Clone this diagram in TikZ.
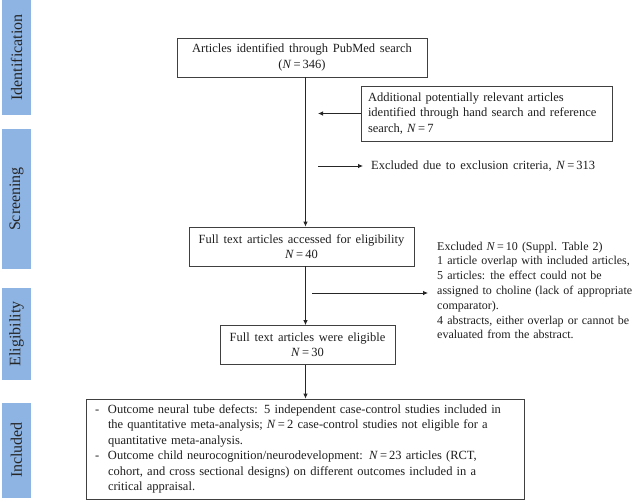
\documentclass[tikz,border=0pt]{standalone}
\usepackage{fontspec}
\setmainfont{Liberation Serif}
\usetikzlibrary{arrows.meta}
\definecolor{barblue}{RGB}{142,180,227}
\definecolor{ink}{RGB}{30,30,30}
\newcommand{\NN}{\textit{N}\,=\,}
\newcommand{\wsp}{\spaceskip=0.38em plus 0.1em minus 0.05em\relax}
\newcommand{\wspn}{\spaceskip=0.34em plus 0.1em minus 0.05em\relax}
\begin{document}
\begin{tikzpicture}[x=1pt,y=-1pt,
  every node/.style={inner sep=0pt, text=ink},
  txt/.style={font=\fontsize{12.5}{15.2}\selectfont\wsp},
  phasebar/.style={fill=barblue, draw=none, minimum width=29pt},
  phaselabel/.style={rotate=90, font=\fontsize{16}{18}\selectfont, text=black!85},
  box/.style={txt, draw=black!75, line width=0.8pt, fill=white, align=center},
  conn/.style={draw=black!85, line width=0.8pt, -{Latex[length=5pt,width=4.5pt]}},
]
\useasboundingbox (0,0) rectangle (642,501);

% phase bars
\node[phasebar, minimum height=115pt] (idbar) at (16.5,57.5) {};
\node[phasebar, minimum height=140pt] (scbar) at (16.5,199) {};
\node[phasebar, minimum height=92pt]  (elbar) at (16.5,334) {};
\node[phasebar, minimum height=95pt]  (inbar) at (16.5,450) {};
\node[phaselabel] (idlab) at (idbar.center) {Identification};
\node[phaselabel] (sclab) at (scbar.center) {Screening};
\node[phaselabel] (ellab) at (elbar.center) {Eligibility};
\node[phaselabel] (inlab) at (inbar.center) {Included};

% boxes
\node[box, minimum width=250pt, minimum height=39pt] (pub) at (302,57.5)
  {Articles identified through PubMed search\\(\NN346)};
\node[box, minimum width=251pt, minimum height=55pt, align=left, text width=237pt, inner xsep=7pt] (add) at (486.5,113.5)
  {Additional potentially relevant articles\\identified through hand search and reference\\search, \NN7};
\node[box, minimum width=225pt, minimum height=39pt] (full) at (301.5,246.5)
  {Full text articles accessed for eligibility\\\NN40};
\node[box, minimum width=175pt, minimum height=39pt] (elig) at (307.5,345)
  {Full text articles were eligible\\\NN30};
\node[box, minimum width=438pt, minimum height=100pt, align=left, text width=420pt, inner xsep=9pt,
  font=\fontsize{12.5}{15.4}\selectfont\wsp] (incl) at (305,449)
  {\makebox[13pt][l]{-}Outcome neural tube defects: 5 independent case-control studies included in\\
   \hspace*{13pt}the quantitative meta-analysis; \NN2 case-control studies not eligible for a\\
   \hspace*{13pt}quantitative meta-analysis.\\
   \makebox[13pt][l]{-}Outcome child neurocognition/neurodevelopment: \NN23 articles (RCT,\\
   \hspace*{13pt}cohort, and cross sectional designs) on different outcomes included in a\\
   \hspace*{13pt}critical appraisal.};

% side texts
\node[txt, anchor=west] (ex1) at (371,166) {Excluded due to exclusion criteria, \NN313};
\node[anchor=west, align=left, font=\fontsize{12}{14.8}\selectfont\wspn] (ex2) at (437,290.5)
  {Excluded \NN10 (Suppl. Table 2)\\
   1 article overlap with included articles,\\
   5 articles: the effect could not be\\
   assigned to choline (lack of appropriate\\
   comparator).\\
   4 abstracts, either overlap or cannot be\\
   evaluated from the abstract.};

% connector helpers
\coordinate (xl) at (305.5,0);
\coordinate (addend) at (318,113.5);
\coordinate (ex1start) at (318,166);
\coordinate (ex2start) at (312,293);

% connectors
\draw[conn] (pub.south -| xl) -- (full.north -| xl);
\draw[conn] (add.west) -- (addend);
\draw[conn, shorten >=8pt] (ex1start) -- (ex1.west |- ex1start);
\draw[conn] (full.south -| xl) -- (elig.north -| xl);
\draw[conn, shorten >=9pt] (ex2start) -- (ex2.west |- ex2start);
\draw[conn] (elig.south -| xl) -- (incl.north -| xl);
\end{tikzpicture}
\end{document}
